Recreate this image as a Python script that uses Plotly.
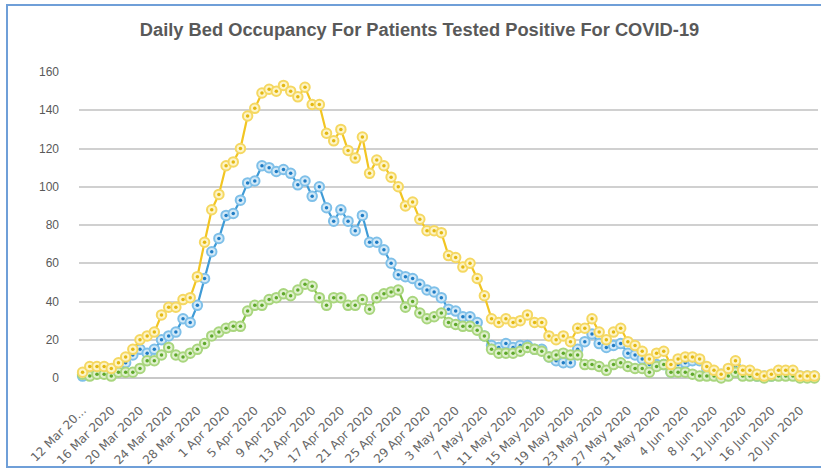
import plotly.graph_objects as go
import pandas as pd

# Categories: daily dates 12 Mar 2020 .. 22 Jun 2020
dates = [d.strftime("%-d %b %Y") for d in pd.date_range("2020-03-12", "2020-06-22", freq="D")]

tick_labels = ["12 Mar 20...", "16 Mar 2020", "20 Mar 2020", "24 Mar 2020", "28 Mar 2020",
               "1 Apr 2020", "5 Apr 2020", "9 Apr 2020", "13 Apr 2020", "17 Apr 2020",
               "21 Apr 2020", "25 Apr 2020", "29 Apr 2020", "3 May 2020", "7 May 2020",
               "11 May 2020", "15 May 2020", "19 May 2020", "23 May 2020", "27 May 2020",
               "31 May 2020", "4 Jun 2020", "8 Jun 2020", "12 Jun 2020", "16 Jun 2020",
               "20 Jun 2020"]

total = [3, 6, 6, 6, 5, 8, 11, 15, 20, 22,
         24, 33, 37, 37, 41, 42, 53, 71, 88, 96,
         111, 113, 120, 137, 141, 149, 151, 150, 153, 150,
         147, 152, 143, 143, 128, 124, 130, 119, 115, 126,
         107, 114, 111, 105, 100, 90, 92, 83, 77, 77,
         76, 64, 63, 58, 60, 52, 43, 31, 29, 31,
         29, 30, 33, 29, 29, 22, 20, 22, 19, 26,
         26, 31, 24, 20, 24, 26, 19, 17, 14, 10,
         13, 14, 7, 10, 11, 11, 10, 6, 4, 2,
         5, 9, 4, 4, 2, 1, 2, 4, 4, 4,
         1, 1, 1]

blue = [1, 4, 4, 4, 4, 5, 8, 12, 15, 13,
        15, 20, 22, 24, 31, 29, 38, 52, 66, 73,
        85, 86, 93, 102, 103, 111, 110, 108, 109, 107,
        101, 103, 95, 100, 89, 82, 88, 82, 77, 85,
        71, 71, 67, 60, 54, 53, 52, 49, 46, 45,
        42, 36, 35, 32, 32, 29, 22, 17, 16, 18,
        16, 17, 17, 15, 15, 11, 9, 8, 8, 15,
        19, 23, 18, 16, 17, 18, 13, 12, 10, 7,
        7, 7, 3, 7, 8, 9, 9, 5, 3, 2,
        4, 6, 3, 3, 1, 1, 1, 3, 3, 3,
        1, 1, 1]

green = [2, 1, 2, 2, 1, 3, 3, 3, 5, 9,
         9, 12, 16, 12, 11, 13, 15, 18, 22, 24,
         26, 27, 27, 35, 38, 38, 41, 42, 44, 43,
         46, 49, 48, 42, 38, 42, 42, 38, 38, 41,
         36, 42, 44, 45, 46, 37, 40, 34, 31, 32,
         34, 29, 28, 27, 27, 25, 22, 15, 13, 13,
         13, 14, 16, 15, 14, 11, 12, 13, 12, 12,
         7, 7, 6, 4, 7, 8, 6, 5, 5, 3,
         6, 7, 3, 3, 3, 2, 1, 1, 1, 0,
         1, 3, 1, 1, 1, 0, 1, 1, 1, 1,
         0, 0, 0]

series = [
    ("Blue", blue, "#3f9bd6", "#d3e9f7", "#7fc0e9", "#1f7cc4"),
    ("Green", green, "#86c34a", "#e0f0cf", "#a9d67e", "#5fa82b"),
    ("Total", total, "#f2c522", "#fdf4c8", "#f5d862", "#e3b812"),
]

fig = go.Figure()
for name, vals, col, fill, ring, dot in series:
    fig.add_trace(go.Scatter(
        x=dates, y=vals, mode="lines+markers", name=name,
        line=dict(color=col, width=2.2),
        marker=dict(size=9.5, color=fill, line=dict(color=ring, width=2)),
        cliponaxis=False, hoverinfo="skip", showlegend=False))
    fig.add_trace(go.Scatter(
        x=dates, y=vals, mode="markers", name=name,
        marker=dict(size=3.5, color=dot),
        cliponaxis=False, hoverinfo="skip", showlegend=False))

L, R, T, B = 79, 3, 72, 92
W, H = 821, 470
pw, ph = W - L - R, H - T - B

def px_x(p):
    return (p - L) / pw

def px_y(p):
    return (H - B - p) / ph

fig.add_shape(type="rect", xref="paper", yref="paper",
              x0=px_x(7), x1=px_x(824), y0=px_y(467), y1=px_y(5),
              line=dict(color="#6f9fd8", width=2), fillcolor="rgba(0,0,0,0)", layer="below")

fig.update_layout(
    width=W, height=H,
    margin=dict(l=L, r=R, t=T, b=B, autoexpand=False),
    paper_bgcolor="white", plot_bgcolor="white",
    title=dict(text="<b>Daily Bed Occupancy For Patients Tested Positive For COVID-19</b>",
               x=0.511, xref="container", xanchor="center",
               y=1 - 30 / H, yref="container", yanchor="middle",
               font=dict(family="Liberation Sans, Arial", size=18.3, color="#595959")),
    font=dict(family="Liberation Sans, Arial", color="#595959"),
)

fig.update_xaxes(
    type="category", range=[-0.5, len(dates) - 0.5], automargin=False,
    tickmode="array", tickvals=dates[::4], ticktext=tick_labels,
    tickangle=-45, showgrid=False, showline=False, zeroline=False, ticks="",
    ticklabelstandoff=22,
    tickfont=dict(family="DejaVu Sans", size=12, color="#666666"),
)
fig.update_yaxes(
    range=[0, 160], dtick=20, showgrid=True, gridcolor="#d0d0d0", gridwidth=1.5,
    zeroline=True, zerolinecolor="#c8c8c8", zerolinewidth=1.5, showline=False, ticks="",
    automargin=False,
    tickfont=dict(family="Liberation Sans, Arial", size=12, color="#595959"),
    ticklabelstandoff=19,
)

fig.write_html("out.html", config={"displayModeBar": False},
               post_script="document.body.style.margin='0';")
